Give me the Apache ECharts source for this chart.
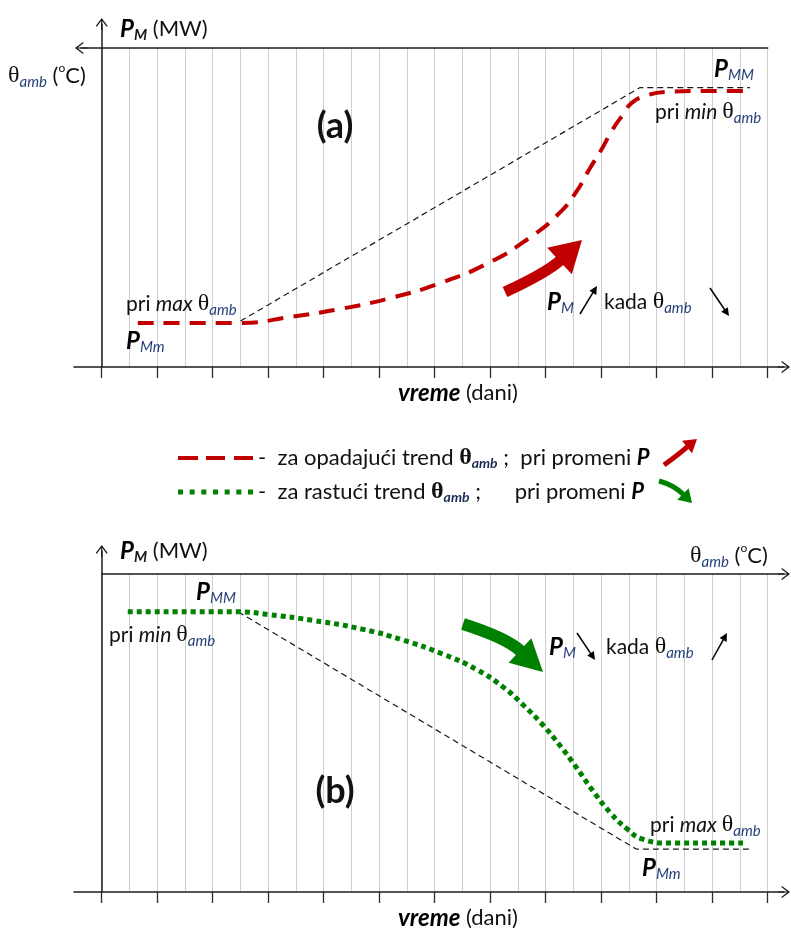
<!DOCTYPE html>
<html><head><meta charset="utf-8">
<script src="https://cdn.jsdelivr.net/npm/echarts@6.0.0/dist/echarts.min.js"></script>
<style>html,body{margin:0;padding:0;background:#fff}#c{width:791px;height:930px}</style>
</head><body><div id="c"></div>
<script>
// ---------- data (days on the time axis, P_M in relative units 0..100) ----------
const dayTicks = [0,1,2,3,4,5,6,7,8,9,10,11,12];
// panel (a): decreasing ambient temperature trend -> P_M rises
const trendA_days = [0.65, 2.5, 3.4, 4.3, 5.2, 6.1, 7.0, 7.7, 8.25, 8.55, 8.8, 9.0, 9.2, 9.4, 9.55, 9.8, 10.15, 10.8, 11.6];
const trendA_PM   = [13.8, 13.8, 15.7, 18.2, 21.6, 26.3, 32.9, 40.4, 48.3, 54.9, 62.4, 68.0, 74.3, 79.3, 82.8, 85.0, 86.2, 86.5, 86.5];
const boundA_days = [2.5, 9.7, 11.68];
const boundA_PM   = [14.4, 87.6, 87.6];
// panel (b): increasing ambient temperature trend -> P_M falls
const trendB_days = [0.47, 2.46, 3.03, 3.81, 4.71, 5.43, 6.15, 6.76, 7.23, 7.59, 7.95, 8.26, 8.56, 8.85, 9.16, 9.47, 9.75, 10.24, 11.56];
const trendB_PM   = [88.1, 88.1, 87.2, 85.4, 82.6, 79.2, 74.8, 69.9, 64.5, 58.9, 52.5, 46.0, 39.0, 31.8, 25.0, 19.8, 16.6, 15.4, 15.4];
const boundB_days = [2.46, 9.63, 11.72];
const boundB_PM   = [88.1, 13.5, 13.5];
const seriesNames = ['opadajući', 'rastući'];

// ---------- styling ----------
const F = "Lato, 'Noto Sans', 'DejaVu Sans', sans-serif";
const TH = "'Liberation Serif', 'DejaVu Serif', serif";
const AX = '#1c1c1c';
const GRIDC = '#cfcfcf';
const RED = '#c00000', GREEN = '#008000';
const ARROW = 'path://M6,0L12,8L10.9,8.7L6.6,2.9L6.6,12L5.4,12L5.4,2.9L1.1,8.7L0,8Z';

function zip(a, b) { return a.map((v, i) => [v, b[i]]); }
function mainX(gi) {
  return { gridIndex: gi, type: 'value', min: dayTicks[0], max: dayTicks[dayTicks.length - 1], interval: 1,
    axisLine: { show: false }, axisLabel: { show: false },
    axisTick: { show: true, inside: false, length: 11, lineStyle: { color: '#2b2b2b', width: 1.3 } },
    splitLine: { show: true, lineStyle: { color: GRIDC, width: 1 } },
    minorTick: { show: false, splitNumber: 2 },
    minorSplitLine: { show: true, lineStyle: { color: GRIDC, width: 1 } } };
}
function mainY(gi) { return { gridIndex: gi, type: 'value', min: 0, max: 100, show: false }; }
function hidden(gi) { return { gridIndex: gi, type: 'value', min: 0, max: 1, show: false }; }
function deco(gi, pos, sym) {
  return { gridIndex: gi, type: 'value', min: 0, max: 1, position: pos,
    axisLine: { show: true, onZero: false, symbol: sym, symbolSize: [12, 12], lineStyle: { color: AX, width: 1.5 } },
    axisTick: { show: false }, axisLabel: { show: false }, splitLine: { show: false }, minorSplitLine: { show: false } };
}

// rich text for graphic labels
const R = {
  n:   { fontSize: 21, fontFamily: F, fill: '#111', lineHeight: 28 },
  i:   { fontSize: 21, fontFamily: F, fontStyle: 'italic', fill: '#111', lineHeight: 28 },
  big: { fontSize: 22, fontFamily: F, fill: '#111', lineHeight: 28 },
  P:   { fontSize: 24, fontFamily: F, fontWeight: 'bold', fontStyle: 'italic', fill: '#000', lineHeight: 28 },
  s:   { fontSize: 15, fontFamily: F, fontStyle: 'italic', fill: '#25407a', verticalAlign: 'bottom', lineHeight: 15 },
  sB:  { fontSize: 15, fontFamily: F, fontStyle: 'italic', fontWeight: 'bold', fill: '#1a1a1a', verticalAlign: 'bottom', lineHeight: 15 },
  th:  { fontSize: 24, fontFamily: TH, fill: '#111', lineHeight: 28 },
  sup: { fontSize: 12, fontFamily: F, fill: '#111', verticalAlign: 'top', lineHeight: 15 },
  lab: { fontSize: 36, fontFamily: F, fontWeight: 'bold', fill: '#111', lineHeight: 42 },
  v:   { fontSize: 24, fontFamily: F, fontWeight: 'bold', fontStyle: 'italic', fill: '#000', lineHeight: 28 }
};
function T(x, y, text, align) {
  return { type: 'text', x: x, y: y, silent: true, z: 100,
    style: { text: text, rich: R, x: 0, y: 0, fill: '#111', font: '21px ' + F,
      align: align || 'left', verticalAlign: 'middle', textAlign: align || 'left', textVerticalAlign: 'middle' } };
}
function smallArrow(t, h, col, lw, hl, hw) {
  col = col || '#000'; lw = lw || 1.5; hl = hl || 8; hw = hw || 4;
  const dx = h[0] - t[0], dy = h[1] - t[1], L = Math.hypot(dx, dy), ux = dx / L, uy = dy / L;
  const b = [h[0] - hl * ux, h[1] - hl * uy];
  return [
    { type: 'line', silent: true, z: 100, shape: { x1: t[0], y1: t[1], x2: b[0] + ux, y2: b[1] + uy }, style: { stroke: col, lineWidth: lw } },
    { type: 'polygon', silent: true, z: 100, shape: { points: [h, [b[0] - hw * uy, b[1] + hw * ux], [b[0] + hw * uy, b[1] - hw * ux]] }, style: { fill: col } }
  ];
}
function bigArrow(tail, ctrl, base, tip, half, w, col) {
  const dx = tip[0] - base[0], dy = tip[1] - base[1], L = Math.hypot(dx, dy), ux = dx / L, uy = dy / L;
  return [
    { type: 'bezierCurve', silent: true, z: 99, shape: { x1: tail[0], y1: tail[1], cpx1: ctrl[0], cpy1: ctrl[1], x2: base[0] + ux, y2: base[1] + uy },
      style: { stroke: col, lineWidth: w, fill: null, lineCap: 'butt' } },
    { type: 'polygon', silent: true, z: 99, shape: { points: [tip, [base[0] - half * uy, base[1] + half * ux], [base[0] + half * uy, base[1] - half * ux]] }, style: { fill: col } }
  ];
}

const graphics = [
  // panel (a)
  T(120, 29, '{P|P}{sB|M}{big| (MW)}'),
  T(8, 76, '{th|θ}{s|amb}{big| (}{sup|o}{big|C)}'),
  T(335, 126, '{lab|(a)}', 'center'),
  T(714, 69, '{P|P}{s|MM}'),
  T(655, 112, '{n|pri }{i|min }{th|θ}{s|amb}'),
  T(126, 304, '{n|pri }{i|max }{th|θ}{s|amb}'),
  T(126, 341, '{P|P}{s|Mm}'),
  T(547, 302, '{P|P}{s|M}'),
  T(604, 302, '{n|kada }{th|θ}{s|amb}'),
  T(458, 393, '{v|vreme}{big| (dani)}', 'center'),
  // panel (b)
  T(120, 551, '{P|P}{sB|M}{big| (MW)}'),
  T(690, 556, '{th|θ}{s|amb}{big| (}{sup|o}{big|C)}'),
  T(196, 592, '{P|P}{s|MM}'),
  T(109, 635, '{n|pri }{i|min }{th|θ}{s|amb}'),
  T(549, 647, '{P|P}{s|M}'),
  T(606, 647, '{n|kada }{th|θ}{s|amb}'),
  T(335, 791, '{lab|(b)}', 'center'),
  T(650, 825, '{n|pri }{i|max }{th|θ}{s|amb}'),
  T(642, 868, '{P|P}{s|Mm}'),
  T(458, 918, '{v|vreme}{big| (dani)}', 'center')
]
  .concat(smallArrow([580, 314], [597, 286]))
  .concat(smallArrow([710, 288], [729, 316]))
  .concat(smallArrow([577, 633], [595, 660]))
  .concat(smallArrow([712, 660], [727, 633]))
  .concat(bigArrow([505, 292], [546, 273], [559.5, 261], [582, 240], 18, 11, RED))
  .concat(bigArrow([463, 624], [507, 638], [520, 650.5], [543, 672], 16.6, 12, GREEN))
  .concat(bigArrow([664, 465], [678, 455], [687, 447], [697, 439], 8, 5, RED))
  .concat(bigArrow([659, 481], [674, 485], [683, 494], [692, 503], 8, 5, GREEN));

const legendRich = {
  t:  { fontSize: 22, fontFamily: F, color: '#111', lineHeight: 24 },
  th: { fontSize: 24, fontFamily: TH, fontWeight: 'bold', color: '#111', lineHeight: 24 },
  sb: { fontSize: 14, fontFamily: F, fontWeight: 'bold', fontStyle: 'italic', color: '#1a2a55', verticalAlign: 'bottom', lineHeight: 13 },
  p:  { fontSize: 22, fontFamily: F, fontWeight: 'bold', fontStyle: 'italic', color: '#000', lineHeight: 24 }
};
const legendText = {
  'opadajući': '{t|-  za opadajući trend }{th|θ}{sb|amb}{t| ;  pri promeni }{p|P}',
  'rastući':   '{t|-  za rastući trend }{th|θ}{sb|amb}{t| ;      pri promeni }{p|P}'
};

const option = {
  animation: false,
  backgroundColor: '#fff',
  grid: [
    { left: 101.7, right: 23.3, top: 48, bottom: 563 },
    { left: 74, right: 7, top: 48, bottom: 563 },
    { left: 81, right: 23.3, top: 48, bottom: 563 },
    { left: 101.7, right: 23.3, top: 24, bottom: 563 },
    { left: 101.7, right: 23.3, top: 574, bottom: 38 },
    { left: 74, right: 7, top: 574, bottom: 38 },
    { left: 101.7, right: 7, top: 574, bottom: 38 },
    { left: 101.7, right: 23.3, top: 551, bottom: 38 }
  ],
  xAxis: [mainX(0), deco(1, 'bottom', ['none', ARROW]), deco(2, 'top', [ARROW, 'none']), hidden(3),
          mainX(4), deco(5, 'bottom', ['none', ARROW]), deco(6, 'top', ['none', ARROW]), hidden(7)],
  yAxis: [mainY(0), hidden(1), hidden(2), deco(3, 'left', ['none', ARROW]),
          mainY(4), hidden(5), hidden(6), deco(7, 'left', ['none', ARROW])],
  legend: {
    orient: 'vertical', left: 178, top: 446, padding: 0, itemGap: 10,
    itemWidth: 75, itemHeight: 5, selectedMode: false,
    itemStyle: { borderWidth: 0 },
    data: [
      { name: seriesNames[0], icon: 'path://M0,0h20v4h-20z M28,0h19v4h-19z M56,0h19v4h-19z' },
      { name: seriesNames[1], icon: 'path://M0,0h5v5h-5z M11.67,0h5v5h-5z M23.33,0h5v5h-5z M35,0h5v5h-5z M46.67,0h5v5h-5z M58.33,0h5v5h-5z M70,0h5v5h-5z' }
    ],
    formatter: function (name) { return legendText[name]; },
    textStyle: { rich: legendRich }
  },
  graphic: { elements: graphics },
  series: [
    { type: 'line', name: 'granica a', xAxisIndex: 0, yAxisIndex: 0, data: zip(boundA_days, boundA_PM),
      symbol: 'none', silent: true, z: 2, color: '#1a1a1a',
      lineStyle: { color: '#1a1a1a', width: 1.2, type: [6, 4] } },
    { type: 'line', name: seriesNames[0], xAxisIndex: 0, yAxisIndex: 0, data: zip(trendA_days, trendA_PM),
      smooth: 0.5, symbol: 'none', silent: true, z: 3, color: RED,
      lineStyle: { color: RED, width: 4, type: [16, 10], cap: 'butt' } },
    { type: 'line', name: 'granica b', xAxisIndex: 4, yAxisIndex: 4, data: zip(boundB_days, boundB_PM),
      symbol: 'none', silent: true, z: 2, color: '#1a1a1a',
      lineStyle: { color: '#1a1a1a', width: 1.2, type: [6, 4] } },
    { type: 'line', name: seriesNames[1], xAxisIndex: 4, yAxisIndex: 4, data: zip(trendB_days, trendB_PM),
      smooth: 0.5, symbol: 'none', silent: true, z: 3, color: GREEN,
      lineStyle: { color: GREEN, width: 5, type: [5, 4], cap: 'butt' } }
  ]
};
const chart = echarts.init(document.getElementById('c'), null, { renderer: 'canvas' });
chart.setOption(option);
</script>
</body></html>
